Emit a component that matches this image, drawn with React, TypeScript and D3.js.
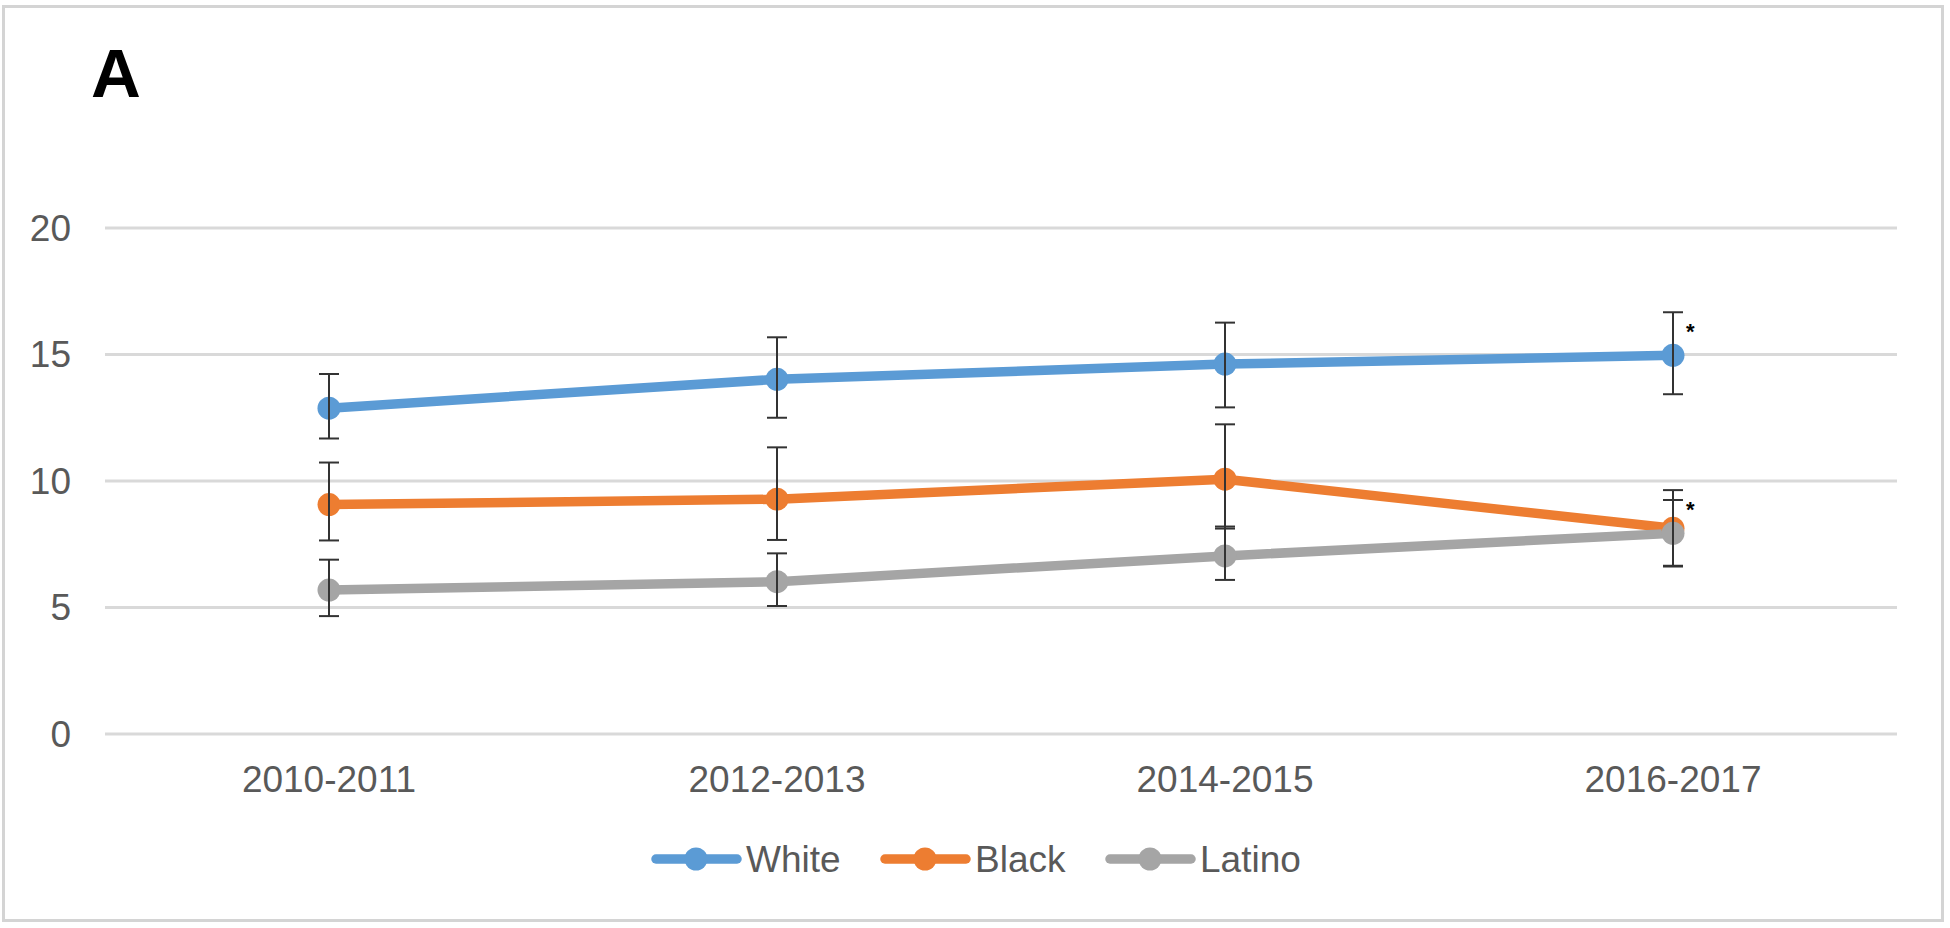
import React from "react";
import * as d3 from "d3";

const categories = ["2010-2011", "2012-2013", "2014-2015", "2016-2017"];
const seriesNames = ["White", "Black", "Latino"];
const whiteValues = [12.88, 14.02, 14.62, 14.97];
const whiteLower = [11.68, 12.5, 12.91, 13.43];
const whiteUpper = [14.23, 15.68, 16.26, 16.67];
const blackValues = [9.07, 9.28, 10.07, 8.13];
const blackLower = [7.65, 7.67, 8.12, 6.62];
const blackUpper = [10.73, 11.33, 12.24, 9.64];
const latinoValues = [5.69, 6.02, 7.04, 7.93];
const latinoLower = [4.66, 5.06, 6.09, 6.65];
const latinoUpper = [6.89, 7.14, 8.2, 9.25];
const yTicks = [0, 5, 10, 15, 20];
const colors = ["#5B9BD5", "#ED7D31", "#A5A5A5"];
const significant = [
  [false, false, false, true],
  [false, false, false, true],
  [false, false, false, false],
];

export default function App() {
  const W = 1950;
  const H = 928;
  const x = d3.scaleBand<string>().domain(categories).range([105, 1897]);
  const y = d3.scaleLinear().domain([0, 20]).range([734, 228]);
  const cx = (c: string) => (x(c) as number) + x.bandwidth() / 2;
  const series = [
    { name: seriesNames[0], v: whiteValues, lo: whiteLower, hi: whiteUpper, color: colors[0], sig: significant[0] },
    { name: seriesNames[1], v: blackValues, lo: blackLower, hi: blackUpper, color: colors[1], sig: significant[1] },
    { name: seriesNames[2], v: latinoValues, lo: latinoLower, hi: latinoUpper, color: colors[2], sig: significant[2] },
  ];
  const line = d3
    .line<number>()
    .x((_, i) => cx(categories[i]))
    .y((d) => y(d));
  const font = "Arial, 'Liberation Sans', sans-serif";
  const legendStarts = [652, 881, 1106];
  const legendY = 859;

  return (
    <svg
      width={W}
      height={H}
      style={{ position: "absolute", left: 0, top: 0, background: "#fff" }}
      fontFamily={font}
    >
      <rect x={0} y={0} width={W} height={H} fill="#fff" />
      <rect x={3.5} y={6.5} width={1939} height={914} fill="none" stroke="#d4d4d4" strokeWidth={3} />
      <text x={91} y={97} fontSize={69} fontWeight="bold" fill="#000">A</text>

      {yTicks.map((t) => (
        <g key={t}>
          <line x1={105} x2={1897} y1={y(t)} y2={y(t)} stroke="#d9d9d9" strokeWidth={3} />
          <text x={71} y={y(t)} dy="0.35em" textAnchor="end" fontSize={37} fill="#595959">
            {t}
          </text>
        </g>
      ))}

      {categories.map((c) => (
        <text key={c} x={cx(c)} y={792} textAnchor="middle" fontSize={37} fill="#595959">
          {c}
        </text>
      ))}

      {series.map((s) => (
        <path key={s.name} d={line(s.v) as string} fill="none" stroke={s.color} strokeWidth={9.5} strokeLinejoin="round" strokeLinecap="round" />
      ))}
      {series.map((s) =>
        s.v.map((v, i) => (
          <circle key={s.name + i} cx={cx(categories[i])} cy={y(v)} r={11.5} fill={s.color} />
        ))
      )}
      {series.map((s) =>
        s.v.map((v, i) => {
          const px = cx(categories[i]);
          return (
            <g key={"e" + s.name + i} stroke="#333" strokeWidth={2}>
              <line x1={px} x2={px} y1={y(s.lo[i])} y2={y(s.hi[i])} />
              <line x1={px - 10} x2={px + 10} y1={y(s.lo[i])} y2={y(s.lo[i])} />
              <line x1={px - 10} x2={px + 10} y1={y(s.hi[i])} y2={y(s.hi[i])} />
            </g>
          );
        })
      )}
      {series.map((s) =>
        s.v.map((v, i) =>
          s.sig[i] ? (
            <text key={"s" + s.name + i} x={cx(categories[i]) + 13} y={y(s.hi[i]) + 27} fontSize={22} fontWeight="bold" fill="#000">
              *
            </text>
          ) : null
        )
      )}

      {series.map((s, i) => {
        const x0 = legendStarts[i];
        return (
          <g key={"l" + s.name}>
            <line x1={x0 + 4} x2={x0 + 85} y1={legendY} y2={legendY} stroke={s.color} strokeWidth={9.5} strokeLinecap="round" />
            <circle cx={x0 + 44} cy={legendY} r={11.5} fill={s.color} />
            <text x={x0 + 94} y={legendY} dy="0.35em" fontSize={37} fill="#595959">
              {s.name}
            </text>
          </g>
        );
      })}
    </svg>
  );
}
